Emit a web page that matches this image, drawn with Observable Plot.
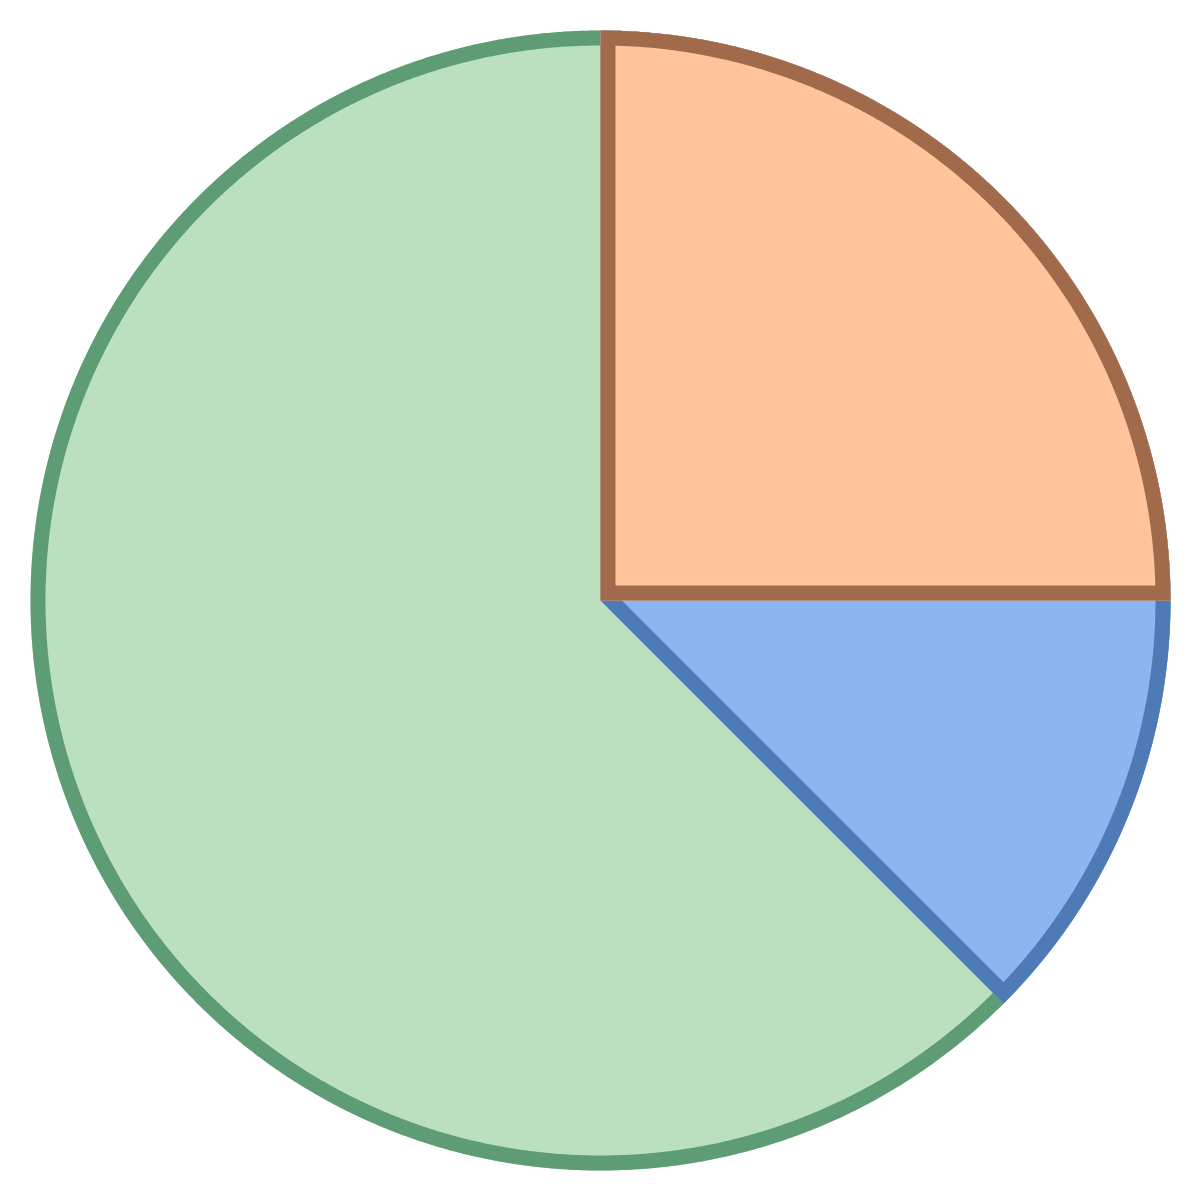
<!DOCTYPE html>
<html>
<head>
<meta charset="utf-8">
<script src="https://cdn.jsdelivr.net/npm/d3@7"></script>
<script src="https://cdn.jsdelivr.net/npm/@observablehq/plot@0.6"></script>
<style>
  html, body { margin: 0; padding: 0; background: #ffffff; }
  #chart svg { display: block; }
</style>
</head>
<body>
<div id="chart"></div>
<script>
// Slices, clockwise from 12 o'clock
const slices = ["Slice A", "Slice B", "Slice C"];
const values = [25, 12.5, 62.5];

const fillColor = { "Slice A": "#ffc49c", "Slice B": "#8bb7f0", "Slice C": "#bae0bd" };
const strokeColor = { "Slice A": "#a16a4a", "Slice B": "#4e7ab5", "Slice C": "#5e9c76" };

const R = 570, SW = 15, inset = SW / 2;
const arcs = d3.pie().sort(null).value(v => v)(values);
const step = Math.PI / 720;
function arcPts(r, a0, a1) {
  const n = Math.max(2, Math.ceil(Math.abs(a1 - a0) / step));
  return d3.range(n + 1).map(i => {
    const a = a0 + (a1 - a0) * i / n;
    return [r * Math.sin(a), r * Math.cos(a)];
  });
}
const xy = {x: p => p[0], y: p => p[1], curve: "linear"};
const strokeStyle = {strokeWidth: SW, strokeLinecap: "butt", strokeLinejoin: "miter", strokeMiterlimit: 10, fill: "none"};

// Slices are layered: each one drawn as a wedge from 12 o'clock to its end angle,
// the last one (full circle) at the bottom, the first one on top.
const marks = [];
for (let i = arcs.length - 1; i >= 0; i--) {
  const name = slices[i];
  const a0 = arcs[0].startAngle, a1 = arcs[i].endAngle;
  const full = Math.abs(a1 - a0 - 2 * Math.PI) < 1e-9;
  if (full) {
    marks.push(Plot.line(arcPts(R, a0, a1), {...xy, fill: fillColor[name], stroke: "none"}));
    const ring = arcPts(R - inset, a0, a1);
    marks.push(Plot.line([...ring, ring[1]], {...xy, ...strokeStyle, stroke: strokeColor[name]}));
  } else {
    const wedge = [[0, 0], ...arcPts(R, a0, a1), [0, 0]];
    marks.push(Plot.line(wedge, {...xy, fill: fillColor[name], stroke: "none"}));
    const theta = a1 - a0, b = (a0 + a1) / 2;
    const dist = inset / Math.sin(theta / 2);
    const P = [dist * Math.sin(b), dist * Math.cos(b)];
    const delta = Math.asin(inset / (R - inset));
    const arcIn = arcPts(R - inset, a0 + delta, a1 - delta);
    marks.push(Plot.line([P, ...arcIn, P, arcIn[0]], {...xy, ...strokeStyle, stroke: strokeColor[name]}));
  }
}

const chart = Plot.plot({
  width: 1200,
  height: 1200,
  margin: 0,
  x: {domain: [-600, 600], axis: null},
  y: {domain: [-600, 600], axis: null},
  style: {background: "#ffffff"},
  marks
});
document.getElementById("chart").appendChild(chart);
</script>
</body>
</html>
